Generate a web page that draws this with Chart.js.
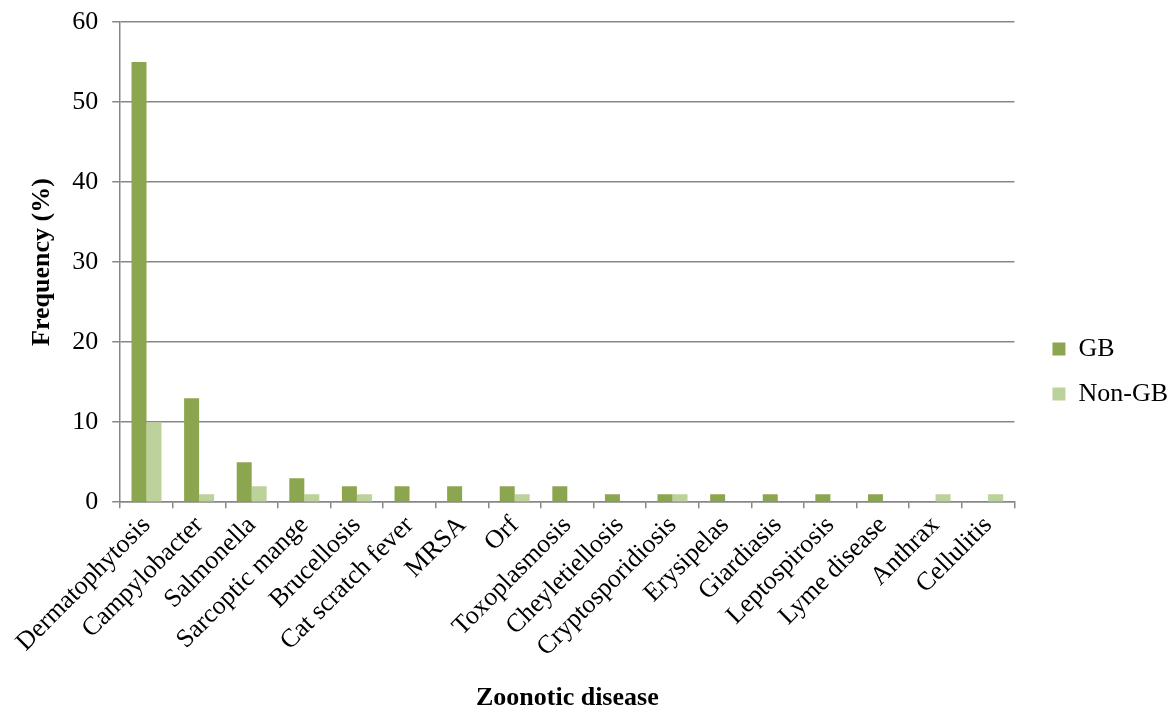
<!DOCTYPE html>
<html>
<head>
<meta charset="utf-8">
<script src="https://cdn.jsdelivr.net/npm/chart.js@4/dist/chart.umd.min.js"></script>
<style>
  html, body { margin: 0; padding: 0; background: #fff; }
  #wrap { width: 1175px; height: 711px; }
</style>
</head>
<body>
<div id="wrap"><canvas id="c"></canvas></div>
<script>
const categories = [
  'Dermatophytosis', 'Campylobacter', 'Salmonella', 'Sarcoptic mange',
  'Brucellosis', 'Cat scratch fever', 'MRSA', 'Orf', 'Toxoplasmosis',
  'Cheyletiellosis', 'Cryptosporidiosis', 'Erysipelas', 'Giardiasis',
  'Leptospirosis', 'Lyme disease', 'Anthrax', 'Cellulitis'
];
const gbValues    = [55, 13, 5, 3, 2, 2, 2, 2, 2, 1, 1, 1, 1, 1, 1, 0, 0];
const nonGbValues = [10, 1, 2, 1, 1, 0, 0, 1, 0, 0, 1, 0, 0, 0, 0, 1, 1];
const yTicks = [0, 10, 20, 30, 40, 50, 60];

const serif = "'Liberation Serif', 'Times New Roman', serif";
const axisGray = '#878787';
const fontSize = 26;

// Nudge the legend block a little right and down from where the layout puts it.
const legendNudge = {
  id: 'legendNudge',
  afterLayout(chart) {
    const lg = chart.legend;
    if (!lg) return;
    lg.left += 19; lg.right += 19;
    lg.top += 5; lg.bottom += 5;
  }
};

new Chart(document.getElementById('c'), {
  type: 'bar',
  data: {
    labels: categories,
    datasets: [
      { label: 'GB', data: gbValues, backgroundColor: '#8ca64f',
        categoryPercentage: 0.57, barPercentage: 1.0 },
      { label: 'Non-GB', data: nonGbValues, backgroundColor: '#bcd29a',
        categoryPercentage: 0.57, barPercentage: 1.0 }
    ]
  },
  plugins: [legendNudge],
  options: {
    responsive: true,
    maintainAspectRatio: false,
    animation: false,
    layout: { autoPadding: false, padding: { top: 22, right: 16, bottom: 0, left: 27 } },
    plugins: {
      tooltip: { enabled: false },
      legend: {
        position: 'right',
        align: 'center',
        labels: {
          boxWidth: 13, boxHeight: 13, padding: 19,
          color: '#000',
          font: { family: serif, size: fontSize }
        }
      }
    },
    scales: {
      x: {
        grid: { drawOnChartArea: false, offset: true, color: axisGray,
                lineWidth: 1.5, tickLength: 6 },
        border: { color: axisGray, width: 1.5 },
        ticks: { minRotation: 45, maxRotation: 45, color: '#000', padding: 2,
                 font: { family: serif, size: fontSize }, autoSkip: false },
        title: { display: true, text: 'Zoonotic disease', color: '#000',
                 font: { family: serif, size: fontSize, weight: 'bold', lineHeight: 1.0 },
                 padding: { top: 20, bottom: 0 } }
      },
      y: {
        min: 0, max: 60,
        afterBuildTicks: (axis) => { axis.ticks = yTicks.map(v => ({ value: v })); },
        grid: { color: axisGray, lineWidth: 1.5, tickLength: 8 },
        border: { color: axisGray, width: 1.5 },
        ticks: { color: '#000', padding: 14, font: { family: serif, size: fontSize, lineHeight: 0.6 } },
        title: { display: true, text: 'Frequency (%)', color: '#000',
                 font: { family: serif, size: fontSize, weight: 'bold' }, padding: { top: 0, bottom: 0 } }
      }
    }
  }
});
</script>
</body>
</html>
